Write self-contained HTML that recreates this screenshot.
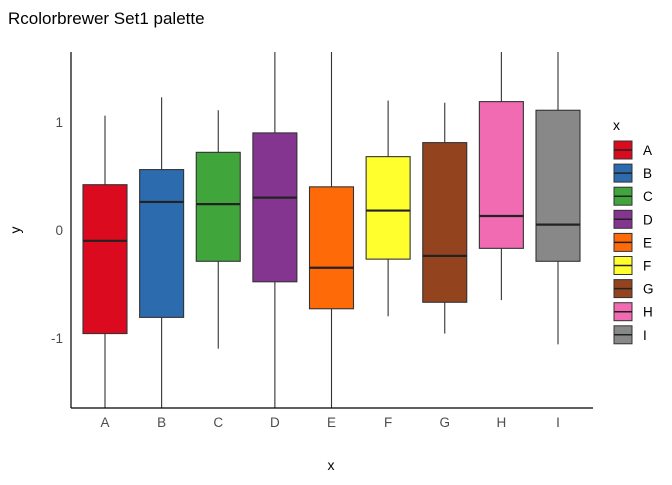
<!DOCTYPE html>
<html><head><meta charset="utf-8"><style>
body{margin:0;background:#fff;font-family:"Liberation Sans",sans-serif;}
</style></head><body>
<svg id="chart" width="672" height="480" xmlns="http://www.w3.org/2000/svg">
<text x="8" y="24" font-size="17" fill="#000">Rcolorbrewer Set1 palette</text>
<defs><clipPath id="pc"><rect x="71" y="52" width="522" height="356"/></clipPath></defs>
<g id="boxes" clip-path="url(#pc)"></g>
<g id="axes"></g>
<g id="legend"></g>
</svg>
<script>
const categories=["A","B","C","D","E","F","G","H","I"];
const fills=["#DC0A1E","#2C6BAE","#40A63C","#84358F","#FF6A08","#FFFF2E","#93441F","#F06BB2","#888888"];
const whiskerHigh=[1.06,1.23,1.11,1.8,1.8,1.20,1.18,1.8,1.8];
const q3=[0.42,0.56,0.72,0.90,0.40,0.68,0.81,1.19,1.11];
const medians=[-0.10,0.26,0.24,0.30,-0.35,0.18,-0.24,0.13,0.05];
const q1=[-0.96,-0.81,-0.29,-0.48,-0.73,-0.27,-0.67,-0.17,-0.29];
const whiskerLow=[-1.8,-1.8,-1.10,-1.8,-1.8,-0.80,-0.96,-0.65,-1.06];
const yTicks=[-1,0,1];
const NS="http://www.w3.org/2000/svg";
const x0=71,x1=593,yTop=52,yBot=408,yMin=-1.65,yMax=1.65;
const firstX=105,lastX=558;
const xs=i=>firstX+(lastX-firstX)*i/(categories.length-1);
const ys=v=>yBot-(v-yMin)/(yMax-yMin)*(yBot-yTop);
function mk(t,a,p){const e=document.createElementNS(NS,t);for(const k in a)e.setAttribute(k,a[k]);p.appendChild(e);return e;}
const gb=document.getElementById('boxes'),ga=document.getElementById('axes'),gl=document.getElementById('legend');
const bw=44;
categories.forEach((c,i)=>{
  const cx=xs(i);
  const g=mk('g',{},gb);
  
  
  mk('line',{x1:cx,x2:cx,y1:ys(whiskerHigh[i]),y2:ys(q3[i]),stroke:'#333','stroke-width':1.1},g);
  mk('line',{x1:cx,x2:cx,y1:ys(q1[i]),y2:ys(whiskerLow[i]),stroke:'#333','stroke-width':1.1},g);
  mk('rect',{x:cx-bw/2,y:ys(q3[i]),width:bw,height:ys(q1[i])-ys(q3[i]),fill:fills[i],stroke:'#333','stroke-width':1.1},g);
  mk('line',{x1:cx-bw/2,x2:cx+bw/2,y1:ys(medians[i]),y2:ys(medians[i]),stroke:'#222','stroke-width':2.2},g);
  const t=mk('text',{x:cx,y:427,'font-size':13.5,fill:'#4d4d4d','text-anchor':'middle'},ga);
  t.textContent=c;
  
  
  const ly=141+i*23.1;
  const r=mk('rect',{x:614,y:ly,width:18,height:18,fill:fills[i],stroke:'#333','stroke-width':1},gl);
  
  
  mk('line',{x1:614,x2:632,y1:ly+9,y2:ly+9,stroke:'#222','stroke-width':1.5},gl);
  const lt=mk('text',{x:643,y:ly+14,'font-size':13.5,fill:'#000'},gl);
  lt.textContent=c;
  
  
});
mk('line',{x1:x0,x2:x0,y1:yTop,y2:yBot,stroke:'#000','stroke-width':1.2},ga);
mk('line',{x1:x0,x2:x1,y1:yBot,y2:yBot,stroke:'#000','stroke-width':1.2},ga);
yTicks.forEach(v=>{
  const t=mk('text',{x:63,y:ys(v)+5,'font-size':13.5,fill:'#4d4d4d','text-anchor':'end'},ga);
  t.textContent=v;
  
  
});
const xt=mk('text',{x:331,y:470,'font-size':14,'text-anchor':'middle'},ga);xt.textContent='x';


const yt=mk('text',{x:20,y:230,'font-size':14,'text-anchor':'middle',transform:'rotate(-90 20 230)'},ga);yt.textContent='y';


const lg=mk('text',{x:613,y:130,'font-size':14},gl);lg.textContent='x';


</script>
</body></html>
